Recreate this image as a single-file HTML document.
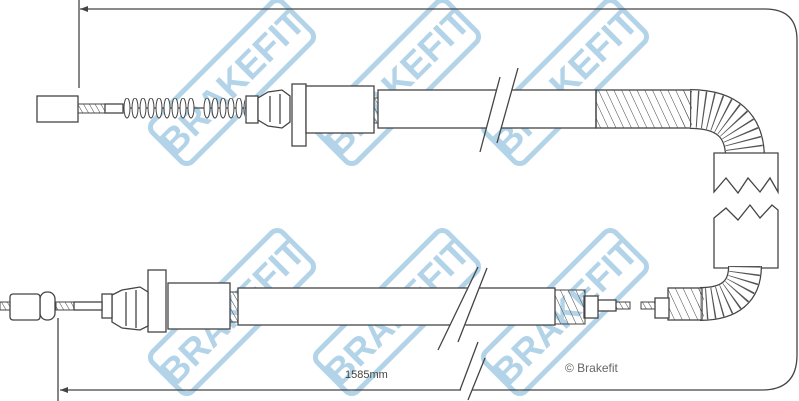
<!DOCTYPE html>
<html><head><style>
html,body{margin:0;padding:0;background:#fff;width:799px;height:401px;overflow:hidden}
svg{display:block}
.wm text{font-family:"Liberation Sans",sans-serif;font-weight:bold;font-size:37px;fill:#b3d4e8}
.wm rect{fill:none;stroke:#b3d4e8;stroke-width:5}
.l{fill:#fff;stroke:#444;stroke-width:1.3}
.n{fill:none;stroke:#444;stroke-width:1.3}
</style></head><body>
<svg width="799" height="401" viewBox="0 0 799 401" xmlns="http://www.w3.org/2000/svg">
<defs>
<pattern id="hatch" width="5" height="5" patternUnits="userSpaceOnUse" patternTransform="rotate(-30)">
<line x1="0" y1="0" x2="0" y2="5" stroke="#444" stroke-width="1"/>
</pattern>
<pattern id="hose" width="7" height="7" patternUnits="userSpaceOnUse" patternTransform="rotate(-25)">
<line x1="0" y1="0" x2="0" y2="7" stroke="#444" stroke-width="1"/>
</pattern>
<pattern id="coil" width="8" height="30" patternUnits="userSpaceOnUse" x="123" y="93">
<ellipse cx="4" cy="15" rx="3" ry="10" fill="#fff" stroke="#444" stroke-width="1"/>
</pattern>
</defs>
<g class="wm">
<g transform="translate(232,82) rotate(-45)"><rect x="-92" y="-28" width="184" height="56" rx="8"/><text x="0" y="13" text-anchor="middle">BRAKEFIT</text></g>
<g transform="translate(397,82) rotate(-45)"><rect x="-92" y="-28" width="184" height="56" rx="8"/><text x="0" y="13" text-anchor="middle">BRAKEFIT</text></g>
<g transform="translate(565,82) rotate(-45)"><rect x="-92" y="-28" width="184" height="56" rx="8"/><text x="0" y="13" text-anchor="middle">BRAKEFIT</text></g>
<g transform="translate(232,312) rotate(-45)"><rect x="-92" y="-28" width="184" height="56" rx="8"/><text x="0" y="13" text-anchor="middle">BRAKEFIT</text></g>
<g transform="translate(397,312) rotate(-45)"><rect x="-92" y="-28" width="184" height="56" rx="8"/><text x="0" y="13" text-anchor="middle">BRAKEFIT</text></g>
<g transform="translate(565,312) rotate(-45)"><rect x="-92" y="-28" width="184" height="56" rx="8"/><text x="0" y="13" text-anchor="middle">BRAKEFIT</text></g>
</g>
<g class="n" stroke-width="1">
<line x1="79" y1="0" x2="79" y2="88"/>
<path d="M80,9 H765 Q797,9 797,40 V355 Q797,390 762,390 H60"/>
<line x1="58" y1="318" x2="58" y2="401"/>
</g>
<path d="M80,9 l8,-3 v6 z" fill="#444"/>
<path d="M60,390 l8,-3 v6 z" fill="#444"/>
<rect x="461" y="386" width="11" height="8" fill="#fff"/>
<path class="n" stroke-width="1" d="M460,390 L478,342 M468,400 L485,358"/>
<text x="345" y="378" font-family="Liberation Sans,sans-serif" font-size="11" fill="#444">1585mm</text>
<text x="565" y="372" font-family="Liberation Sans,sans-serif" font-size="12" fill="#666">© Brakefit</text>

<rect class="l" x="37" y="96" width="41" height="26"/>
<rect x="78" y="104" width="27" height="9" fill="url(#hatch)" stroke="#444"/>
<rect class="l" x="105" y="104" width="18" height="9"/>
<line class="n" x1="123" y1="108" x2="248" y2="108"/>
<rect x="123" y="98" width="72" height="21" fill="url(#coil)"/>
<rect x="203" y="98" width="42" height="21" fill="url(#coil)"/>
<rect class="l" x="246" y="96" width="12" height="27"/>
<path class="l" d="M258,98 L268,92 L282,90 L290,96 L290,122 L282,128 L268,126 L258,120 Z"/>
<line class="n" x1="270" y1="96" x2="270" y2="122"/><line class="n" x1="280" y1="94" x2="280" y2="124"/>
<rect class="l" x="292" y="84" width="14" height="62"/>
<rect class="l" x="306" y="86" width="68" height="47"/>
<rect x="374" y="98" width="5" height="25" fill="url(#hatch)" stroke="#444"/>
<rect class="l" x="378" y="90" width="218" height="38"/>
<polygon points="497,89 512,89 501,129 486,129" fill="#fff"/>
<path class="n" d="M480,152 L500,77 M497,143 L518,68"/>

<rect x="596" y="90" width="96" height="38" fill="url(#hose)" stroke="#444" stroke-width="1.3"/>
<path d="M690,109 Q745,109 745,158" fill="none" stroke="#444" stroke-width="40"/>
<path d="M690,109 Q745,109 745,158" fill="none" stroke="#fff" stroke-width="37.5"/>
<path d="M690,109 Q745,109 745,158" fill="none" stroke="#555" stroke-width="37" stroke-dasharray="1.2 5.5"/>
<rect x="680" y="91" width="12" height="36" fill="url(#hose)"/>
<path class="l" d="M714,153 H778 V192 L770,178 L760,192 L748,178 L738,193 L726,178 L714,192 Z"/>
<path class="l" d="M714,218 L726,208 L738,220 L750,205 L760,218 L772,205 L778,210 V268 H714 Z"/>
<path d="M745,266 Q745,304 700,304" fill="none" stroke="#444" stroke-width="34"/>
<path d="M745,266 Q745,304 700,304" fill="none" stroke="#fff" stroke-width="31.5"/>
<path d="M745,266 Q745,304 700,304" fill="none" stroke="#555" stroke-width="31" stroke-dasharray="1.2 5.5"/>
<rect x="668" y="288" width="34" height="32" fill="url(#hose)" stroke="#444" stroke-width="1.3"/>
<rect x="698" y="289" width="6" height="30" fill="url(#hose)"/>
<rect class="l" x="655" y="298" width="14" height="20"/>
<rect x="641" y="302" width="14" height="7" fill="url(#hatch)" stroke="#444"/>
<rect x="616" y="302" width="14" height="7" fill="url(#hatch)" stroke="#444"/>
<rect class="l" x="598" y="300" width="18" height="11"/>
<rect class="l" x="584" y="296" width="14" height="22"/>
<rect x="555" y="290" width="30" height="34" fill="url(#hose)" stroke="#444"/>

<rect class="l" x="238" y="288" width="317" height="37"/>
<polygon points="468,287 480,287 465,326 450,326" fill="#fff"/>
<path class="n" d="M438,350 L478,267 M458,342 L487,268"/>
<rect x="230" y="292" width="8" height="30" fill="url(#hatch)" stroke="#444"/>
<rect class="l" x="168" y="283" width="62" height="46"/>
<rect class="l" x="148" y="270" width="18" height="62"/>
<path class="l" d="M112,295 L122,290 L140,287 L148,292 L148,326 L140,330 L122,328 L112,322 Z"/>
<line class="n" x1="126" y1="292" x2="126" y2="326"/><line class="n" x1="136" y1="290" x2="136" y2="328"/>
<rect class="l" x="102" y="294" width="10" height="24"/>
<rect class="l" x="74" y="302" width="28" height="8"/>
<rect x="56" y="302" width="18" height="8" fill="url(#hatch)" stroke="#444"/>
<rect class="l" x="40" y="292" width="15" height="28" rx="7"/>
<rect class="l" x="10" y="294" width="30" height="26" rx="3"/>
<rect x="0" y="302" width="10" height="8" fill="url(#hatch)" stroke="#444"/>
</svg>
</body></html>
